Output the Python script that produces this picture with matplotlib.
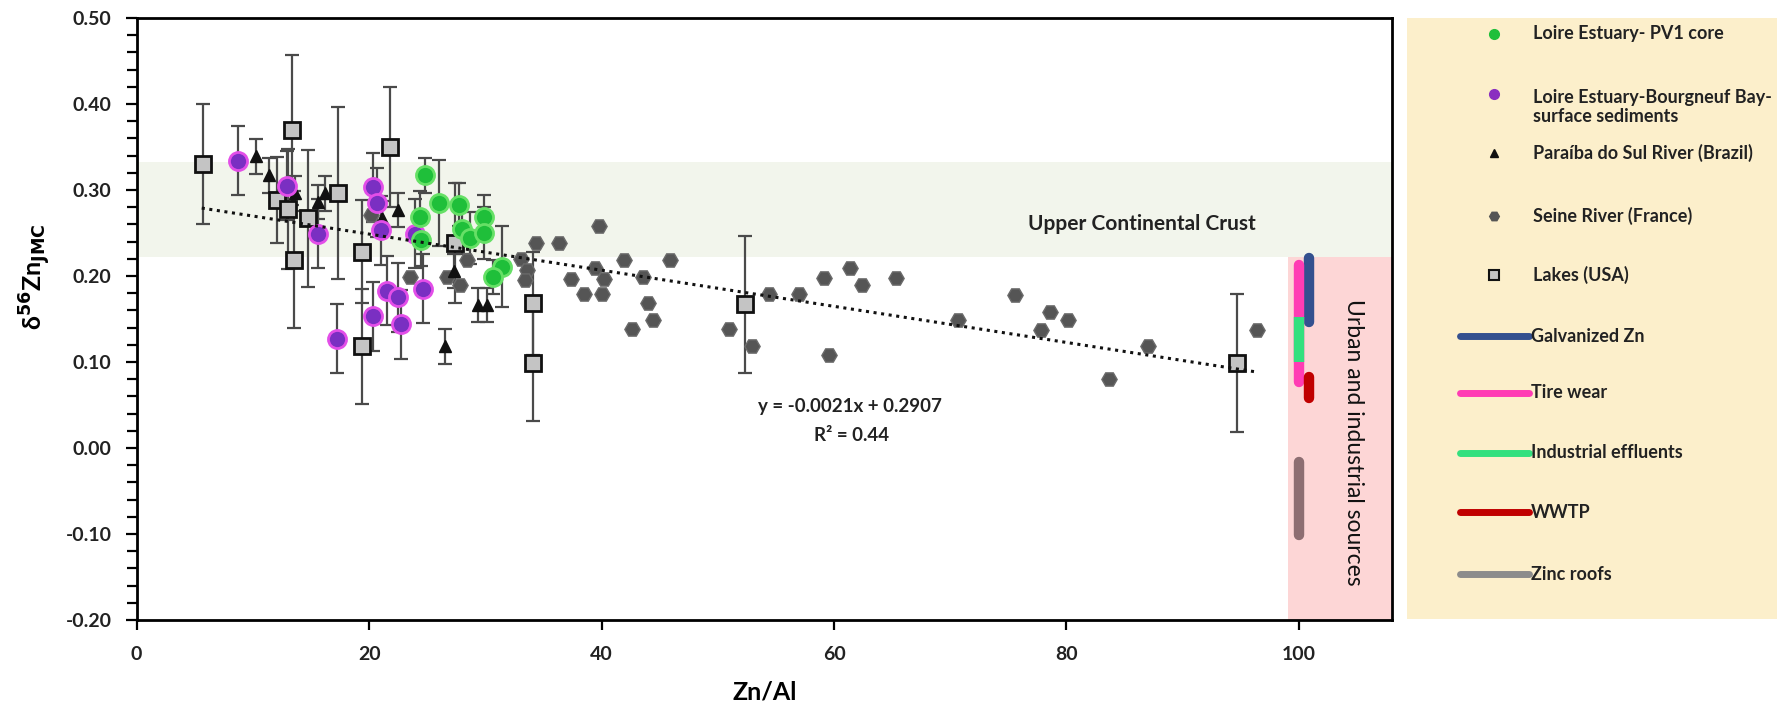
import matplotlib
matplotlib.use("Agg")
import matplotlib.pyplot as plt
from matplotlib.ticker import MultipleLocator, FormatStrFormatter

plt.rcParams['font.family'] = ['Lato', 'DejaVu Sans']
plt.rcParams['mathtext.fontset'] = 'dejavusans'

# Loire Estuary - PV1 core (green)
pv1_x = [24.8, 24.4, 26.05, 27.7, 29.85, 28.0, 28.7, 29.85, 31.4, 30.7, 24.5]
pv1_y = [0.317, 0.269, 0.285, 0.283, 0.269, 0.255, 0.244, 0.250, 0.211, 0.199, 0.242]
pv1_err = [0.02, 0.03, 0.05, 0.025, 0.025, 0.03, 0.03, 0.03, 0.047, 0.02, 0.03]

# Loire Estuary - Bourgneuf Bay surface sediments (purple)
bay_x = [8.75, 12.9, 15.6, 20.3, 20.7, 21.05, 23.95, 17.2, 20.3, 21.5, 22.5, 22.75, 24.6]
bay_y = [0.334, 0.305, 0.249, 0.303, 0.285, 0.253, 0.249, 0.127, 0.153, 0.183, 0.175, 0.144, 0.185]
bay_err = [0.04, 0.04, 0.04, 0.04, 0.04, 0.04, 0.04, 0.04, 0.04, 0.04, 0.04, 0.04, 0.04]

# Paraiba do Sul River (triangles)
pds_x = [10.25, 11.4, 13.6, 15.6, 16.2, 21.1, 22.45, 27.3, 29.4, 30.1, 26.5]
pds_y = [0.339, 0.317, 0.296, 0.286, 0.296, 0.267, 0.277, 0.206, 0.166, 0.166, 0.118]
pds_err = [0.02, 0.02, 0.02, 0.02, 0.02, 0.02, 0.02, 0.02, 0.02, 0.02, 0.02]

# Seine River (hexagons, no error bars)
seine_x = [20.2, 23.5, 26.7, 27.8, 28.4, 33.1, 33.6, 33.4, 34.4, 36.3, 37.4, 39.45, 40.2,
           38.45, 40.0, 39.8, 41.95, 43.55, 44.0, 44.4, 42.6, 45.9, 51.0, 52.9, 54.4,
           56.95, 59.1, 59.6, 61.4, 62.4, 65.3, 70.7, 75.55, 78.6, 80.1, 77.8, 87.0,
           83.7, 96.4]
seine_y = [0.271, 0.199, 0.199, 0.190, 0.219, 0.220, 0.207, 0.195, 0.238, 0.238, 0.197, 0.209, 0.197,
           0.179, 0.179, 0.258, 0.219, 0.199, 0.169, 0.149, 0.138, 0.218, 0.138, 0.119, 0.179,
           0.179, 0.198, 0.108, 0.209, 0.189, 0.198, 0.149, 0.178, 0.158, 0.149, 0.137, 0.119,
           0.080, 0.137]

# Lakes (USA) (grey squares)
lake_x = [5.67, 13.4, 12.05, 13.05, 14.75, 17.35, 13.5, 19.4, 19.4, 21.8, 27.4, 34.1, 34.1, 52.3, 94.7]
lake_y = [0.330, 0.370, 0.288, 0.278, 0.267, 0.297, 0.219, 0.228, 0.118, 0.350, 0.238, 0.168, 0.099, 0.167, 0.099]
lake_err = [0.07, 0.087, 0.05, 0.07, 0.08, 0.10, 0.08, 0.06, 0.067, 0.07, 0.07, 0.06, 0.068, 0.08, 0.08]

# regression line
slope, intercept = -0.0021, 0.2907
trend_x = [5.6, 96.5]

# urban and industrial source ranges
src_names = ['Galvanized Zn', 'Tire wear', 'Industrial effluents', 'WWTP', 'Zinc roofs']
src_colors = ['#34508f', '#ff3cb4', '#33e07e', '#c00000', '#8c8c8c']
src_x = [100.9, 100.0, 100.0, 100.9, 100.0]
src_lo = [0.147, 0.077, 0.100, 0.058, -0.101]
src_hi = [0.221, 0.213, 0.152, 0.083, -0.016]

fig = plt.figure(figsize=(17.77, 7.16), dpi=100)
ax = fig.add_axes([0.0769, 0.1341, 0.7064, 0.8408])

ax.axhspan(0.222, 0.333, color='#f2f5ec', zorder=0, lw=0)
ax.axvspan(99.1, 108, ymin=0, ymax=(0.222 + 0.2) / 0.7, color='#fdd6d6', zorder=0, lw=0)

eb = dict(fmt='none', ecolor='#4a4a4a', elinewidth=1.6, capsize=5, capthick=1.6, zorder=2)
ax.errorbar(lake_x, lake_y, yerr=lake_err, **eb)
ax.errorbar(pds_x, pds_y, yerr=pds_err, **eb)
ax.errorbar(bay_x, bay_y, yerr=bay_err, **eb)
ax.errorbar(pv1_x, pv1_y, yerr=pv1_err, **eb)

ax.plot(seine_x, seine_y, 'H', ms=11, color='#555555', mec='#6a6a6a', mew=1, ls='none', zorder=3)
ax.plot(pds_x, pds_y, '^', ms=8, color='#111111', ls='none', zorder=4)
ax.plot(lake_x, lake_y, 's', ms=12, mfc='#c4c4c4', mec='#111111', mew=2, ls='none', zorder=5)
ax.plot(bay_x, bay_y, 'o', ms=13, mfc='#7a2fc2', mec='#e34ee8', mew=2, ls='none', zorder=6)
ax.plot(pv1_x, pv1_y, 'o', ms=13, mfc='#1fbf3a', mec='#66e066', mew=2, ls='none', zorder=7)

trend_y = [slope * v + intercept for v in trend_x]
ax.plot(trend_x, trend_y, ls=(0, (1, 1.5)), color='#111111', lw=2.2, zorder=8)

for name, c, x, lo, hi in zip(src_names, src_colors, src_x, src_lo, src_hi):
    col = '#8d6e72' if name == 'Zinc roofs' else c
    cap = 'butt' if name == 'Industrial effluents' else 'round'
    ax.plot([x, x], [lo, hi], color=col, lw=7.5, solid_capstyle=cap, zorder=3)

ax.text(86.5, 0.2605, 'Upper Continental Crust', ha='center', va='center',
        fontsize=15, fontweight='bold', color='#222222')
ax.text(104.7, 0.007, 'Urban and industrial sources', rotation=270, ha='center',
        va='center', fontsize=16.5, color='#111111')
ax.text(61.4, 0.0477, 'y = -0.0021x + 0.2907', ha='center', va='center',
        fontsize=13.5, fontweight='bold', color='#222222')
ax.text(61.5, 0.015, 'R² = 0.44', ha='center', va='center',
        fontsize=13.5, fontweight='bold', color='#222222')

ax.set_xlim(0, 108)
ax.set_ylim(-0.2, 0.5)
ax.set_xticks([0, 20, 40, 60, 80, 100])
ax.yaxis.set_major_locator(MultipleLocator(0.1))
ax.yaxis.set_minor_locator(MultipleLocator(0.02))
ax.yaxis.set_major_formatter(FormatStrFormatter('%.2f'))
ax.tick_params(axis='both', which='both', direction='out', width=1.6, labelsize=14)
ax.tick_params(axis='y', which='major', length=8, pad=10)
ax.tick_params(axis='y', which='minor', length=7)
ax.tick_params(axis='x', length=7, pad=12)
for lab in ax.get_xticklabels() + ax.get_yticklabels():
    lab.set_fontweight('bold')
    lab.set_color('#222222')
for sp in ax.spines.values():
    sp.set_linewidth(2)

ax.set_xlabel('Zn/Al', fontsize=18, fontweight='bold', labelpad=12)
ax.set_ylabel(r'δ$^{\mathbf{56}}$Zn$_{\mathbf{JMC}}$', fontsize=18, fontweight='bold')
ax.yaxis.set_label_coords(-0.067, 0.57)

# legend panel (pixel coords)
lax = fig.add_axes([1407 / 1777, 1 - 619 / 716, 1 - 1407 / 1777, (619 - 18) / 716])
lax.set_xlim(1407, 1777)
lax.set_ylim(619, 18)
lax.set_facecolor('#fcefcb')
for sp in lax.spines.values():
    sp.set_visible(False)
lax.set_xticks([])
lax.set_yticks([])

mk_x, txt_x = 1494, 1533
lt = dict(fontsize=13, fontweight='bold', color='#222222', va='center')
lax.plot(mk_x, 34, 'o', ms=7, color='#1fbf3a')
lax.text(txt_x, 34, 'Loire Estuary- PV1 core', **lt)
lax.plot(mk_x, 94, 'o', ms=7, color='#8a2fc0')
lax.text(txt_x, 107, 'Loire Estuary-Bourgneuf Bay-\nsurface sediments', linespacing=1.1, **lt)
lax.plot(mk_x, 153, '^', ms=6, color='#111111')
lax.text(txt_x, 153, 'Paraíba do Sul River (Brazil)', **lt)
lax.plot(mk_x, 216, 'H', ms=7, color='#555555')
lax.text(txt_x, 216, 'Seine River (France)', **lt)
lax.plot(mk_x, 275, 's', ms=7, mfc='#c4c4c4', mec='#111111', mew=1.5)
lax.text(txt_x, 275, 'Lakes (USA)', **lt)

src_leg_y = [336, 393, 453, 512, 574]
for name, c, y in zip(src_names, src_colors, src_leg_y):
    lax.plot([1460, 1529], [y, y], color=c, lw=5, solid_capstyle='round')
    lax.text(txt_x - 2, y, name, **lt)

fig.savefig('out.png', dpi=100)
